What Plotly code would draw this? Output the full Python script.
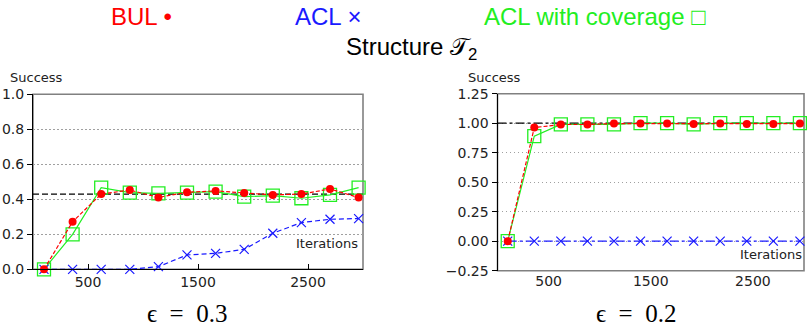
import plotly.graph_objects as go

W, H = 807, 327

iterations = [100, 360, 620, 880, 1140, 1400, 1660, 1920, 2180, 2440, 2700, 2960]

# Left panel (epsilon = 0.3)
bul_a = [0.0, 0.272, 0.430, 0.453, 0.411, 0.440, 0.448, 0.436, 0.425, 0.430, 0.459, 0.410]
acl_a = [0.0, 0.0, 0.0, 0.0, 0.015, 0.082, 0.091, 0.114, 0.206, 0.267, 0.286, 0.290]
cov_a = [0.0, 0.200, 0.467, 0.438, 0.434, 0.438, 0.444, 0.415, 0.421, 0.406, 0.425, 0.467]
ref_a = 0.43

# Right panel (epsilon = 0.2)
bul_b = [0.0, 0.963, 0.989, 0.989, 0.997, 0.997, 0.997, 0.994, 0.997, 0.994, 0.994, 0.997]
acl_b = [0.0] * 12
cov_b = [0.0, 0.890, 0.990, 0.990, 0.990, 1.0, 1.0, 0.990, 1.0, 1.0, 1.0, 1.0]
ref_b = 1.0

x_range = [0, 3000]
x_ticks = [500, 1500, 2500]
y_ticks_a = [0.0, 0.2, 0.4, 0.6, 0.8, 1.0]
y_ticks_b = [-0.25, 0.0, 0.25, 0.5, 0.75, 1.0, 1.25]

RED = "#ff0000"
BLUE = "#1a1aff"
GREEN = "#22ee22"

fig = go.Figure()


def add_panel(xa, ya, bul, acl, cov, ref, blue_dash, ref_dash):
    fig.add_trace(go.Scatter(x=x_range, y=[ref, ref], mode="lines",
                             line=dict(color="black", width=1.2, dash=ref_dash),
                             xaxis=xa, yaxis=ya, hoverinfo="skip"))
    fig.add_trace(go.Scatter(x=iterations, y=cov, mode="lines+markers",
                             line=dict(color=GREEN, width=1.2),
                             marker=dict(symbol="square-open", size=13, color=GREEN,
                                         line=dict(width=1.3, color=GREEN)),
                             cliponaxis=False, xaxis=xa, yaxis=ya))
    fig.add_trace(go.Scatter(x=iterations, y=acl, mode="lines+markers",
                             line=dict(color=BLUE, width=1.2, dash=blue_dash),
                             marker=dict(symbol="x-thin-open", size=9, color=BLUE,
                                         line=dict(width=1.2, color=BLUE)),
                             cliponaxis=False, xaxis=xa, yaxis=ya))
    fig.add_trace(go.Scatter(x=iterations, y=bul, mode="lines+markers",
                             line=dict(color=RED, width=1.2, dash="4px,2px"),
                             marker=dict(symbol="circle", size=8, color=RED),
                             cliponaxis=False, xaxis=xa, yaxis=ya))


add_panel("x", "y", bul_a, acl_a, cov_a, ref_a, "5px,3px", "6px,3px")
add_panel("x2", "y2", bul_b, acl_b, cov_b, ref_b, "dashdot", "dashdot")

tickfont = dict(family="DejaVu Sans", size=14, color="#222")

common_x = dict(range=x_range, tickvals=x_ticks, showgrid=False, zeroline=False,
                tickfont=tickfont, automargin=False, ticklen=5, tickcolor="black")
common_y = dict(showgrid=True, griddash="1.5px,2.5px", gridcolor="#a0a0a0", gridwidth=1.3,
                zeroline=False, showline=True, linecolor="black", linewidth=1,
                ticks="outside", ticklen=5, tickcolor="black", tickfont=tickfont,
                automargin=False)

fig.update_layout(
    width=W, height=H, autosize=False,
    margin=dict(l=0, r=0, t=0, b=0),
    paper_bgcolor="white", plot_bgcolor="white",
    showlegend=False,
    xaxis=dict(domain=[33 / W, 363 / W], anchor="y", showline=True, linecolor="black",
               linewidth=1, ticks="inside", **common_x),
    yaxis=dict(domain=[1 - 269.3 / H, 1 - 94.3 / H], anchor="x", range=[0, 1.0],
               tickvals=y_ticks_a, tickformat=".1f", **common_y),
    xaxis2=dict(domain=[497.5 / W, 804 / W], anchor="y2", showline=False, ticks="",
                **common_x),
    yaxis2=dict(domain=[1 - 270.7 / H, 1 - 93.7 / H], anchor="x2", range=[-0.25, 1.25],
                tickvals=y_ticks_b, tickformat=".2f", **common_y),
)

for xr, yr in (("x", "y"), ("x2", "y2")):
    fig.add_shape(type="rect", xref=f"{xr} domain", yref=f"{yr} domain",
                  x0=0, x1=1, y0=0, y1=1, line=dict(color="#808080", width=1.6),
                  layer="below")

lab = dict(family="DejaVu Sans", size=13, color="#222")
fig.add_annotation(text="Success", xref="paper", yref="paper", x=8 / W, y=1 - 77 / H,
                   xanchor="left", yanchor="middle", showarrow=False, font=lab)
fig.add_annotation(text="Success", xref="paper", yref="paper", x=466 / W, y=1 - 77 / H,
                   xanchor="left", yanchor="middle", showarrow=False, font=lab)
fig.add_annotation(text="Iterations", xref="x", yref="y", x=3000, y=0.145,
                   xanchor="right", yanchor="middle", xshift=-3, showarrow=False, font=lab)
fig.add_annotation(text="Iterations", xref="x2", yref="y2", x=3000, y=-0.11,
                   xanchor="right", yanchor="middle", showarrow=False, font=lab)

top = dict(family="Liberation Sans", size=24)
fig.add_annotation(text="BUL •", xref="paper", yref="paper", x=141.5 / W, y=1 - 17 / H,
                   xanchor="center", yanchor="middle", showarrow=False,
                   font=dict(color=RED, **top))
fig.add_annotation(text="ACL ×", xref="paper", yref="paper", x=327.5 / W, y=1 - 17 / H,
                   xanchor="center", yanchor="middle", showarrow=False,
                   font=dict(color=BLUE, **top))
fig.add_annotation(text="ACL with coverage □", xref="paper", yref="paper", x=594.5 / W,
                   y=1 - 17 / H, xanchor="center", yanchor="middle", showarrow=False,
                   font=dict(color=GREEN, **top))
fig.add_annotation(text="Structure 𝒯<sub>2</sub>", xref="paper", yref="paper", x=411 / W,
                   y=1 - 48 / H, xanchor="center", yanchor="middle", showarrow=False,
                   font=dict(color="black", **top))

eps = dict(family="Liberation Serif", size=25, color="black")
fig.add_annotation(text="ϵ\u2002=\u20020.3", xref="paper", yref="paper", x=187 / W,
                   y=1 - 313 / H, xanchor="center", yanchor="middle", showarrow=False,
                   font=eps)
fig.add_annotation(text="ϵ\u2002=\u20020.2", xref="paper", yref="paper", x=636 / W,
                   y=1 - 313 / H, xanchor="center", yanchor="middle", showarrow=False,
                   font=eps)

fig.write_html("out.html", config={"displayModeBar": False},
               post_script="document.body.style.margin='0';document.body.style.padding='0';")
